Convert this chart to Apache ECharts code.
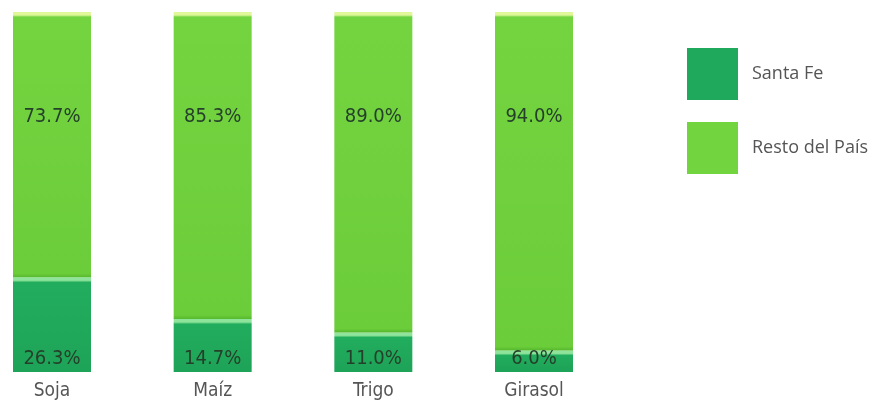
<!DOCTYPE html>
<html><head><meta charset="utf-8">
<script src="https://cdn.jsdelivr.net/npm/echarts@6/dist/echarts.min.js"></script>
<style>html,body{margin:0;padding:0;background:#fff}#c{width:893px;height:407px}</style>
</head><body><div id="c"></div>
<script>
const categories = ['Soja', 'Maíz', 'Trigo', 'Girasol'];
const santaFe = [26.3, 14.7, 11.0, 6.0];
const resto = [73.7, 85.3, 89.0, 94.0];
const seriesNames = ['Santa Fe', 'Resto del País'];

const PLOT_H = 360; // px of 100%
function grad(v, light, main, dark, shade) {
  const h = v / 100 * PLOT_H;
  const o = Math.min(0.5, 5 / h);
  const s = Math.max(0.5, 1 - 4 / h);
  return {type:'linear', x:0, y:0, x2:0, y2:1, colorStops:[
    {offset:0, color:light},{offset:o*0.6, color:light},{offset:o, color:main},{offset:s, color:dark},{offset:1, color:shade}]};
}
const chart = echarts.init(document.getElementById('c'));
const labelFont = {fontFamily:'"Liberation Sans Narrow","DejaVu Sans Condensed",sans-serif', fontSize:20, color:'#25402a'};
chart.setOption({
  animation:false,
  grid:{left:52, right:893-534, top:12, bottom:35},
  legend:{orient:'vertical', left:682, top:43, itemWidth:51, itemHeight:52, itemGap:22,
    icon:'rect',
    textStyle:{fontFamily:'"Open Sans","DejaVu Sans",sans-serif', fontSize:18, color:'#555', padding:[0,0,0,9]},
    data:[{name:seriesNames[0], itemStyle:{color:'#1fa95c'}},{name:seriesNames[1], itemStyle:{color:'#72d43f'}}]},
  xAxis:{type:'category', data:categories, boundaryGap:false, axisLine:{show:false}, axisTick:{show:false},
    axisLabel:{fontFamily:'"Liberation Sans Narrow","DejaVu Sans Condensed",sans-serif', fontSize:19, color:'#555', margin:10}},
  yAxis:{type:'value', min:0, max:100, show:false},
  series:[
    {name:seriesNames[0], type:'bar', stack:'s', barWidth:78,
      data:santaFe.map(v=>({value:v, itemStyle:{color:grad(v,'#8ee49a','#22ad5e','#1ea458','#1ea458')}})),
      label:{show:true, position:'insideBottom', distance:3, formatter:p=>p.value.toFixed(1)+'%', ...labelFont}},
    {name:seriesNames[1], type:'bar', stack:'s', barWidth:78,
      data:resto.map(v=>({value:v, itemStyle:{color:grad(v,'#e0f79a','#74d440','#6ccd3a','#55b82e')}})),
      label:{show:true, position:'insideTop', distance:95, formatter:p=>p.value.toFixed(1)+'%', ...labelFont}}
  ]
});
</script></body></html>
